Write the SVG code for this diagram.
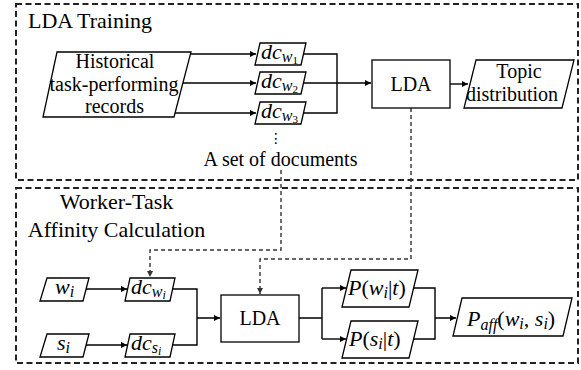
<svg xmlns="http://www.w3.org/2000/svg" width="581" height="370" viewBox="0 0 581 370">
<style>
.frame{fill:none;stroke:#222;stroke-width:2;stroke-dasharray:6 3.5}
.node{fill:#fff;stroke:#000;stroke-width:1.3}
.t{font-family:"Liberation Serif","Times New Roman",serif;font-size:20px;fill:#000}
.title{font-family:"Liberation Serif","Times New Roman",serif;font-size:22px;fill:#000}
.m{font-family:"Liberation Serif","Times New Roman",serif;font-size:22px;font-style:italic;fill:#000}
.s1{font-size:16px}
.s2{font-size:11px;font-style:normal}
.s2i{font-size:12px}
.up{font-style:normal}
.c{fill:none;stroke:#000;stroke-width:1.4}
.d{fill:none;stroke:#333;stroke-width:1.4;stroke-dasharray:4 3}
</style>
<defs>
<marker id="a" markerWidth="6" markerHeight="6" refX="6" refY="3" orient="auto" markerUnits="userSpaceOnUse">
<path d="M0,0 L6,3 L0,6 z" fill="#000"/>
</marker>
<marker id="ad" markerWidth="6" markerHeight="6" refX="6" refY="3" orient="auto" markerUnits="userSpaceOnUse">
<path d="M0,0 L6,3 L0,6 z" fill="#333"/>
</marker>
</defs>

<g id="frame-training">
<rect class="frame" x="16" y="4" width="562" height="176"/>
<text class="title" x="28" y="28">LDA Training</text>
</g>
<g id="frame-affinity">
<rect class="frame" x="16" y="188" width="562" height="175"/>
<text class="title" x="116.5" y="209" text-anchor="middle">Worker-Task</text>
<text class="title" x="116.5" y="237" text-anchor="middle">Affinity Calculation</text>
</g>

<g id="connectors">
<path class="c" d="M190.5,54 H256" marker-end="url(#a)"/>
<path class="c" d="M183,83 H256" marker-end="url(#a)"/>
<path class="c" d="M175,113 H256" marker-end="url(#a)"/>
<path class="c" d="M303.5,54 H337 V113 H303.5 M303.5,83 H371" marker-end="url(#a)"/>
<path class="c" d="M450,84 H468" marker-end="url(#a)"/>
<path class="d" d="M281,170 V250 H150 V277" marker-end="url(#ad)"/>
<path class="d" d="M411,108 V259 H260 V294" marker-end="url(#ad)"/>
<path class="c" d="M86,289 H127" marker-end="url(#a)"/>
<path class="c" d="M86,345 H127" marker-end="url(#a)"/>
<path class="c" d="M172.5,289 H197 V345 H172.5 M197,318 H220" marker-end="url(#a)"/>
<path class="c" d="M299,318 H322 M322,288 V339"/>
<path class="c" d="M322,288 H346" marker-end="url(#a)"/>
<path class="c" d="M322,339 H346" marker-end="url(#a)"/>
<path class="c" d="M413.5,288 H435 V339 H413.5 M435,318 H456" marker-end="url(#a)"/>
</g>

<g id="historical">
<polygon class="node" points="57,52 191,52 174,117 43,117"/>
<text class="t" x="115" y="68" text-anchor="middle">Historical</text>
<text class="t" x="114" y="91" text-anchor="middle">task-performing</text>
<text class="t" x="114.5" y="113" text-anchor="middle">records</text>
</g>

<g id="dc-w1">
<polygon class="node" points="260,43 306,43 301,65 255,65"/>
<text class="m" x="261" y="59">dc<tspan class="s1" dy="3">w</tspan><tspan class="s2" dy="2">1</tspan></text>
</g>
<g id="dc-w2">
<polygon class="node" points="260,72 306,72 301,94 255,94"/>
<text class="m" x="261" y="88">dc<tspan class="s1" dy="3">w</tspan><tspan class="s2" dy="2">2</tspan></text>
</g>
<g id="dc-w3">
<polygon class="node" points="260,102 306,102 301,124 255,124"/>
<text class="m" x="261" y="118">dc<tspan class="s1" dy="3">w</tspan><tspan class="s2" dy="2">3</tspan></text>
</g>
<g id="doc-set">
<text x="276" y="143" text-anchor="middle" style="font-family:'DejaVu Sans',sans-serif;font-size:14px">⋮</text>
<text class="t" x="280.5" y="166" text-anchor="middle">A set of documents</text>
</g>

<g id="lda-top">
<rect class="node" x="372" y="60" width="78" height="48"/>
<text class="t" x="411" y="91" text-anchor="middle">LDA</text>
</g>
<g id="topic">
<polygon class="node" points="476,60 574,60 562,108 464,108"/>
<text class="t" x="519" y="78" text-anchor="middle">Topic</text>
<text class="t" x="512" y="101" text-anchor="middle">distribution</text>
</g>

<g id="wi">
<polygon class="node" points="47,278 89,278 83,301 40,301"/>
<text class="m" x="55" y="294">w<tspan class="s1" dy="3">i</tspan></text>
</g>
<g id="si">
<polygon class="node" points="47,334 89,334 83,357 40,357"/>
<text class="m" x="57" y="350">s<tspan class="s1" dy="3">i</tspan></text>
</g>
<g id="dc-wi">
<polygon class="node" points="130,278 175,278 170,301 125,301"/>
<text class="m" x="131" y="294">dc<tspan class="s1" dy="3">w</tspan><tspan class="s2i" dy="2">i</tspan></text>
</g>
<g id="dc-si">
<polygon class="node" points="130,334 175,334 170,357 125,357"/>
<text class="m" x="131" y="350">dc<tspan class="s1" dy="3">s</tspan><tspan class="s2i" dy="2">i</tspan></text>
</g>

<g id="lda-bottom">
<rect class="node" x="221" y="295" width="78" height="47"/>
<text class="t" x="260" y="325" text-anchor="middle">LDA</text>
</g>

<g id="p-wi-t">
<polygon class="node" points="351,270 418,270 409,307 342,307"/>
<text class="m" x="348" y="295">P<tspan class="up">(</tspan>w<tspan class="s1" dy="3">i</tspan><tspan class="up" dy="-3">|</tspan>t<tspan class="up">)</tspan></text>
</g>
<g id="p-si-t">
<polygon class="node" points="351,321 418,321 409,358 342,358"/>
<text class="m" x="349" y="346">P<tspan class="up">(</tspan>s<tspan class="s1" dy="3">i</tspan><tspan class="up" dy="-3">|</tspan>t<tspan class="up">)</tspan></text>
</g>
<g id="p-aff">
<polygon class="node" points="462,298 572,298 563,336 453,336"/>
<text class="m" x="467" y="326">P<tspan class="s1" dy="4">aff</tspan><tspan class="up" dy="-4">(</tspan>w<tspan class="s1" dy="3">i</tspan><tspan class="up" dy="-3">, </tspan>s<tspan class="s1" dy="3">i</tspan><tspan class="up" dy="-3">)</tspan></text>
</g>
</svg>
